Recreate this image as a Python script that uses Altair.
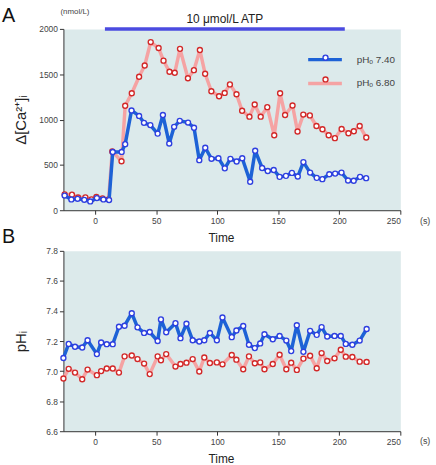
import altair as alt
import pandas as pd

FONT = "Liberation Sans"
L740 = "pHₒ 7.40"
L680 = "pHₒ 6.80"

# ---- Panel A: Δ[Ca2+]i (nmol/L) ----
tA_blue = [-25, -19.5, -14.4, -8.9, -4, 1.4, 6.8, 11.4, 14.4, 21.7,
           24.6, 29.8, 36, 40, 45.2, 51.2, 55.5, 60.7, 64.7, 69.3,
           76.1, 81, 85.3, 90.2, 95.3, 101, 106.2, 110.8, 115.9, 120.5,
           127, 131.1, 136.8, 141.4, 146.3, 151.1, 156.3, 161.2, 166, 170.6,
           176.1, 181.5, 186.1, 191.8, 196.6, 201.8, 207.2, 211.8, 217, 222]
vA_blue = [162, 119, 126, 115, 97, 134, 119, 112, 643, 643,
           729, 1101, 1040, 964, 939, 845, 1050, 736, 920, 986,
           967, 910, 552, 689, 567, 574, 462, 567, 538, 574,
           314, 657, 466, 433, 444, 368, 379, 412, 372, 531,
           415, 357, 343, 397, 404, 415, 328, 325, 368, 354]
tA_red = [-25, -19, -14, -8, -3, 1, 6, 11, 14, 21.6,
          24.6, 30, 36, 40.6, 45.5, 52, 56, 60.9, 65.2, 69.5,
          76, 80.9, 85.8, 90.1, 95.2, 101.5, 106.1, 110.4, 115.8, 120.4,
          126.4, 130.7, 135.6, 141, 146.7, 151.5, 155.6, 161.7, 165.8, 170.5,
          175.9, 181.3, 186.2, 191.3, 196.4, 201.9, 207.5, 211.9, 216.7, 222.1]
vA_red = [175, 172, 140, 142, 120, 146, 131, 120, 649, 540,
          1152, 1290, 1472, 1596, 1855, 1789, 1650, 1527, 1516, 1780,
          1456, 1545, 1767, 1505, 1312, 1257, 1294, 1388, 1279, 1097,
          1032, 1166, 1032, 1137, 827, 1290, 1050, 1155, 868, 1055,
          1046, 929, 893, 827, 795, 896, 849, 871, 929, 802]

# ---- Panel B: pHi ----
tB = [-26, -21.7, -16.5, -10.6, -6.2, 1.4, 4.9, 9.5, 14.4, 19.5,
      24.1, 30, 34.7, 40.1, 44.7, 51.2, 53.9, 58.2, 65.8, 69.9,
      74.8, 79.9, 85.3, 89.4, 94, 99.7, 104.3, 111.9, 115.7, 121.3,
      126, 130.8, 135.2, 138.7, 145.5, 151.1, 156.6, 160.6, 165.2, 170.6,
      176.1, 181.5, 185.5, 190.1, 196.1, 201.2, 205.3, 210.7, 216.7, 222.4]
vB_blue = [7.087, 7.181, 7.162, 7.157, 7.205, 7.113, 7.190, 7.179, 7.179, 7.295,
           7.302, 7.385, 7.291, 7.254, 7.26, 7.2, 7.344, 7.258, 7.319, 7.219,
           7.315, 7.205, 7.197, 7.205, 7.254, 7.205, 7.357, 7.226, 7.27, 7.3,
           7.175, 7.153, 7.184, 7.245, 7.212, 7.234, 7.203, 7.133, 7.305, 7.128,
           7.268, 7.241, 7.293, 7.23, 7.234, 7.234, 7.181, 7.175, 7.203, 7.28]
vB_red = [6.951, 7.015, 6.99, 6.946, 7.01, 6.973, 7.0, 7.017, 7.017, 6.99,
          7.098, 7.104, 7.08, 7.05, 6.98, 7.098, 7.072, 7.113, 7.03, 7.047,
          7.056, 7.08, 6.997, 7.091, 7.054, 7.058, 7.045, 7.107, 7.076, 7.012,
          7.098, 7.052, 7.058, 7.012, 7.047, 7.109, 7.012, 7.056, 7.008, 7.083,
          7.102, 7.019, 7.12, 7.067, 7.085, 7.142, 7.096, 7.094, 7.063, 7.061]

x_ticks = [0, 50, 100, 150, 200, 250]
yA_ticks = [0, 500, 1000, 1500, 2000]
yB_ticks = [6.6, 6.8, 7.0, 7.2, 7.4, 7.6, 7.8]
atp_start, atp_end = 8, 204.5
atp_label = "10 μmol/L ATP"

BLUE_LINE = "#1d62d6"
PINK_LINE = "#f5a3a3"
BLUE_PT = "#2e3fe0"
RED_PT = "#d22828"
BG = "#dceaeb"

W, HA, HB = 340, 183, 182


def frame(t, v, s, p):
    return pd.DataFrame({"t": t, "v": v, "s": s, "p": p})


def xenc():
    return alt.X("t:Q", scale=alt.Scale(domain=[-26, 250], nice=False, zero=False),
                 axis=alt.Axis(values=x_ticks, title="Time", titleX=159, titlePadding=8))


line_legend = alt.Legend(orient="none", legendX=257, legendY=24, title=None,
                         symbolType="M-3.4,0H3.4", symbolSize=100, symbolStrokeWidth=3.5,
                         labelOffset=25, rowPadding=10, labelFontSize=10, labelFont=FONT,
                         labelColor="#444", padding=0)
pt_legend = alt.Legend(orient="none", legendX=259.5, legendY=24, title=None,
                       symbolType="circle", symbolSize=25, symbolStrokeWidth=1.4,
                       symbolFillColor="white", labelOpacity=0, rowPadding=10,
                       labelFontSize=10, labelFont=FONT, padding=0)

color_enc = alt.Color("s:N", scale=alt.Scale(domain=[L740, L680], range=[BLUE_LINE, PINK_LINE]),
                      legend=line_legend)
stroke_enc = alt.Stroke("p:N", scale=alt.Scale(domain=["b", "r"], range=[BLUE_PT, RED_PT]),
                        legend=pt_legend)

yA = alt.Y("v:Q", scale=alt.Scale(domain=[0, 2000], nice=False, zero=False),
           axis=alt.Axis(values=yA_ticks, format="d", title="Δ[Ca²⁺]ᵢ", titlePadding=10))
yB = alt.Y("v:Q", scale=alt.Scale(domain=[6.6, 7.8], nice=False, zero=False),
           axis=alt.Axis(values=yB_ticks, format=".1f", title="pHᵢ", titlePadding=17))

dA_b = frame(tA_blue, vA_blue, L740, "b")
dA_r = frame(tA_red, vA_red, L680, "r")


def line_layer(df, y):
    return alt.Chart(df).mark_line(strokeWidth=3.5, strokeJoin="round").encode(
        x=xenc(), y=y, color=color_enc)


def pt_layer(df, y):
    return alt.Chart(df).mark_point(filled=False, fill="white", size=25, strokeWidth=1.4,
                                    opacity=1).encode(x=xenc(), y=y, stroke=stroke_enc)


def label(text, x, y, size, color="#222", align="left", baseline="alphabetic"):
    return alt.Chart(pd.DataFrame({"lab": [text]})).mark_text(
        font=FONT, fontSize=size, color=color, align=align, baseline=baseline
    ).encode(x=alt.value(x), y=alt.value(y), text="lab:N")


atp_df = pd.DataFrame({"t": [atp_start], "t2": [atp_end], "v": [2000]})
atp_rule = alt.Chart(atp_df).mark_rule(strokeWidth=3.5, color="#4b4be0").encode(
    x=xenc(), x2="t2:Q", y=yA)
atp_text_df = pd.DataFrame({"t": [(atp_start + atp_end) / 2], "v": [2000], "lab": [atp_label]})
atp_text = alt.Chart(atp_text_df).mark_text(font=FONT, fontSize=12, color="#222", dy=-10,
                                            baseline="middle").encode(
    x=xenc(), y=yA, text="lab:N")

panelA = alt.layer(
    line_layer(dA_r, yA), pt_layer(dA_r, yA),
    line_layer(dA_b, yA), pt_layer(dA_b, yA),
    atp_rule, atp_text,
    label("A", -62, -7, 20, color="#111"),
    label("(nmol/L)", -3, -17, 8, color="#444", baseline="middle"),
    label("(s)", 365, HA + 11, 9, color="#444", align="center", baseline="middle"),
    label("B", -62, 216, 20, color="#111"),
).properties(width=W, height=HA)

dB_b = frame(tB, vB_blue, L740, "b")
dB_r = frame(tB, vB_red, L680, "r")


def line_b(df, col):
    return alt.Chart(df).mark_line(strokeWidth=3.5, strokeJoin="round", color=col).encode(
        x=xenc(), y=yB)


def pt_b(df, col):
    return alt.Chart(df).mark_point(filled=False, fill="white", size=25, strokeWidth=1.4,
                                    opacity=1, stroke=col).encode(x=xenc(), y=yB)


panelB = alt.layer(
    line_b(dB_r, PINK_LINE), pt_b(dB_r, RED_PT),
    line_b(dB_b, BLUE_LINE), pt_b(dB_b, BLUE_PT),
    label("(s)", 365, HB + 10, 9, color="#444", align="center", baseline="middle"),
).properties(width=W, height=HB)

chart = alt.vconcat(panelA, panelB, spacing=41, bounds="flush").properties(
    padding={"left": 1, "top": 3, "right": 5, "bottom": 5}
).configure_view(fill=BG, stroke="transparent").configure_axis(
    grid=False, domainColor="#333", tickColor="#333", tickSize=4, labelPadding=2,
    labelFont=FONT, labelFontSize=8.5, labelColor="#444",
    titleFont=FONT, titleFontSize=12, titleColor="#222", titleFontWeight="normal"
).configure_axisY(titleFontSize=15)

chart.save("out.html", embed_options={"renderer": "svg", "actions": False})
